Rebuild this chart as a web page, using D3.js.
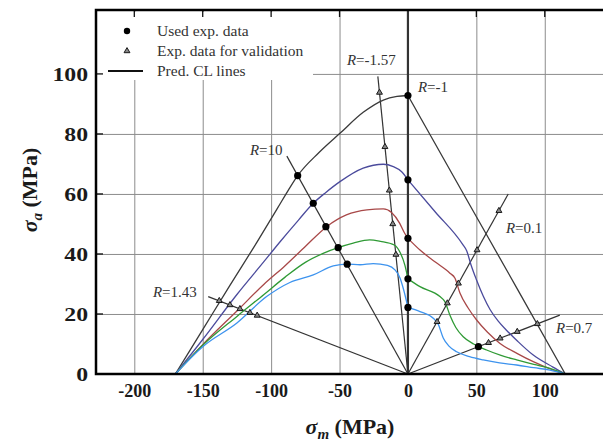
<!DOCTYPE html>
<html>
<head>
<meta charset="utf-8">
<script src="https://cdn.jsdelivr.net/npm/d3@7"></script>
<style>
  body { margin: 0; background: #fff; }
  svg { display: block; }
  text { font-family: "Liberation Serif", "Times New Roman", serif; }
</style>
</head>
<body>
<svg id="chart" width="603" height="441"></svg>
<script>
// tick values
var xTicks = [-200, -150, -100, -50, 0, 50, 100];
var yTicks = [0, 20, 40, 60, 80, 100];

// predicted constant-life curves (sigma_m, sigma_a)
var clBlack = [[-170,0],[-150,14.8],[-130,29.6],[-110,44.2],[-95,55.5],[-87.5,61.2],[-80.6,66.1],[-65,73.8],[-49.7,80.2],[-32.7,87.2],[-18,91.3],[-8,92.5],[0,92.8],
               [40,60.5],[80,28.3],[115,0]];
var clPurple = [[-170,0],[-150,11.5],[-125,26.5],[-105,37.6],[-93.6,44],[-80,51.3],[-69.2,56.9],[-60,60.5],[-49.7,64.1],[-32.7,68.6],[-18,69.9],[-10.7,69.1],[-4.6,67.4],[0,64.7],
                [20,54],[40,43.2],[43,41],[46,36.5],[50,31.5],[55,26],[60,21.5],[66,17.6],[72,14.6],[80,11],[91.6,6.3],[106,2.3],[115,0]];
var clRed = [[-170,0],[-150,9.8],[-125,21],[-105,30],[-90,36],[-75,42.5],[-59.4,49.1],[-45,53],[-30,54.7],[-18,55],[-12,53.8],[-6,50.2],[-2.5,47],[0,45.2],
             [8.8,41.3],[20,37.3],[30.7,33.6],[34.4,31.9],[38,27],[44,22],[50.2,18],[58,14],[67.3,10.2],[80,6.8],[91.6,4.1],[105,1.5],[115,0]];
var clGreen = [[-170,0],[-150,9.6],[-125,19.2],[-105,26.6],[-90,32.2],[-75,37.2],[-62,40.2],[-51,42.1],[-40,43.6],[-28,44.7],[-20,44.2],[-10,43],[-5.8,40.6],[-2.2,36.2],[0,31.7],
               [8.8,29.1],[23.4,25.8],[27,24.1],[30.7,19.6],[35,15.5],[40.4,12.4],[48,10],[57.5,8],[68,6.2],[79.5,4.7],[92,3.2],[103.8,1.9],[115,0]];
var clBlue = [[-170,0],[-150,9.1],[-125,17],[-103.3,25.8],[-86.3,30.5],[-69.2,33],[-54.6,36],[-44.4,36.6],[-35,36.4],[-25.4,36.8],[-15,36.2],[-9.5,34.7],[-5.8,32],[-3.4,28.5],[0,22.2],
              [8.8,20.8],[18.5,18.6],[22.2,16.5],[25.8,12],[30,9.3],[35.6,7.4],[45,5.8],[55,4.7],[67,3.7],[79.5,3],[92,2.1],[103.8,1.3],[115,0]];

// stress-ratio lines: far end of each line from the origin
var rNames = ["10", "1.43", "-1.57", "-1", "0.1", "0.7"];
var rEnds = [[-88.5,72.6],[-146,25.8],[-22,99.2],[0,121.3],[73.3,60],[111,19.6]];
var rLabelAt = [[-115.5,73],[-186.4,25.7],[-44.6,103],[7.3,94],[71.6,47],[108.2,13.7]];

// used experimental data (filled dots)
var usedData = [[0,92.8],[0,64.7],[0,45.2],[0,31.7],[0,22.2],
                [-80.6,66.1],[-69.2,56.9],[-60,49.1],[-51,42.1],[-44.4,36.6],
                [51.5,9.1]];
// experimental data for validation (triangles)
var validData = [[-20.8,93.8],[-16.8,75.7],[-13.6,61.2],[-11.1,50],[-8.8,39.8],
                 [-137.9,24.4],[-130.1,23],[-122.8,21.7],[-115.5,20.4],[-110.2,19.5],
                 [66.5,54.4],[50.5,41.3],[36.9,30.2],[28.8,23.6],[21.3,17.4],
                 [94.6,16.7],[79.9,14.1],[67.4,11.9],[58.9,10.4]];

var curves = [
  {pts: clBlack, color: "#3a3a3a"},
  {pts: clPurple, color: "#4b4b9c"},
  {pts: clRed, color: "#a84848"},
  {pts: clGreen, color: "#2f9a35"},
  {pts: clBlue, color: "#3d93ee"}
];

var svg = d3.select("#chart");
var plotL = 96, plotR = 604, plotT = 10, plotB = 374;

var x = d3.scaleLinear().domain([-228, 143.3]).range([plotL, plotR]);
var y = d3.scaleLinear().domain([0, 121.3]).range([plotB, plotT]);

svg.append("rect").attr("width", 603).attr("height", 441).attr("fill", "#fff");

// grid
svg.append("g")
  .attr("transform", "translate(0," + plotB + ")")
  .call(d3.axisBottom(x).tickValues(xTicks).tickSize(-(plotB - plotT)).tickFormat(""))
  .call(function(g){ g.select(".domain").remove(); })
  .selectAll("line").attr("stroke", "#8c8c8c").attr("stroke-width", 1);
svg.append("g")
  .attr("transform", "translate(" + plotL + ",0)")
  .call(d3.axisLeft(y).tickValues(yTicks.slice(1)).tickSize(-(plotR - plotL)).tickFormat(""))
  .call(function(g){ g.select(".domain").remove(); })
  .selectAll("line").attr("stroke", "#8c8c8c").attr("stroke-width", 1);

// legend box hides the grid
svg.append("rect").attr("x", 97).attr("y", 12).attr("width", 216).attr("height", 68).attr("fill", "#fff");

// inner tick marks
var tk = svg.append("g").attr("stroke", "#111").attr("stroke-width", 1.3);
xTicks.forEach(function(v){
  tk.append("line").attr("x1", x(v)).attr("x2", x(v)).attr("y1", plotT).attr("y2", plotT + 7);
});
yTicks.forEach(function(v){
  tk.append("line").attr("x1", plotL).attr("x2", plotL + 7).attr("y1", y(v)).attr("y2", y(v));
});

// tick labels
var xAxis = svg.append("g")
  .attr("transform", "translate(0," + plotB + ")")
  .call(d3.axisBottom(x).tickValues(xTicks).tickSize(0).tickFormat(function(d){ return String(d); }));
xAxis.select(".domain").remove();
xAxis.selectAll("text")
  .attr("y", 23).attr("dy", 0)
  .style("font-family", "Liberation Serif").style("font-weight", "bold")
  .style("font-size", "18px").attr("fill", "#1a1a1a");

var yAxis = svg.append("g")
  .attr("transform", "translate(" + plotL + ",0)")
  .call(d3.axisLeft(y).tickValues(yTicks).tickSize(0).tickFormat(function(d){ return String(d); }));
yAxis.select(".domain").remove();
yAxis.selectAll("text")
  .attr("x", -8 / 1.25).attr("dy", "0.34em")
  .attr("transform", "scale(1.25,1)")
  .style("font-family", "Liberation Serif").style("font-weight", "bold")
  .style("font-size", "19px").attr("fill", "#1a1a1a");

// R lines
var rl = svg.append("g").attr("stroke", "#333").attr("fill", "none");
rEnds.forEach(function(e, i){
  rl.append("line")
    .attr("x1", x(0)).attr("y1", y(0))
    .attr("x2", x(e[0])).attr("y2", y(e[1]))
    .attr("stroke-width", rNames[i] === "-1" ? 2.2 : 1.2);
});

// curves: left and right branches meet at the R=-1 point
var line = d3.line().x(function(d){ return x(d[0]); }).y(function(d){ return y(d[1]); })
  .curve(d3.curveMonotoneX);
curves.forEach(function(c){
  var l = c.pts.filter(function(d){ return d[0] <= 0; });
  var r = c.pts.filter(function(d){ return d[0] >= 0; });
  [l, r].forEach(function(part){
    svg.append("path").attr("d", line(part))
      .attr("fill", "none").attr("stroke", c.color).attr("stroke-width", 1.3);
  });
});

// markers
var tri = d3.symbol().type(d3.symbolTriangle).size(15);
svg.append("g").selectAll("path").data(validData).enter().append("path")
  .attr("d", tri)
  .attr("transform", function(d){ return "translate(" + x(d[0]) + "," + y(d[1]) + ")"; })
  .attr("fill", "#888").attr("stroke", "#1a1a1a").attr("stroke-width", 1);
svg.append("g").selectAll("circle").data(usedData).enter().append("circle")
  .attr("cx", function(d){ return x(d[0]); })
  .attr("cy", function(d){ return y(d[1]); })
  .attr("r", 3.6).attr("fill", "#000");

// R labels
rNames.forEach(function(n, i){
  var t = svg.append("text")
    .attr("x", x(rLabelAt[i][0])).attr("y", y(rLabelAt[i][1]))
    .attr("fill", "#333").style("font-size", "15px");
  t.append("tspan").attr("font-style", "italic").text("R");
  t.append("tspan").text("=" + n);
});

// legend
svg.append("circle").attr("cx", 127).attr("cy", 31).attr("r", 3.2).attr("fill", "#000");
svg.append("path").attr("d", tri).attr("transform", "translate(127,51)")
  .attr("fill", "#888").attr("stroke", "#1a1a1a").attr("stroke-width", 1);
svg.append("line").attr("x1", 108).attr("x2", 143).attr("y1", 71).attr("y2", 71)
  .attr("stroke", "#111").attr("stroke-width", 2);
var legendText = ["Used exp. data", "Exp. data for validation", "Pred. CL lines"];
legendText.forEach(function(s, i){
  svg.append("text").attr("x", 157).attr("y", 36 + i * 20)
    .attr("fill", "#333").style("font-size", "15.5px").text(s);
});

// frame
svg.append("rect").attr("x", plotL).attr("y", plotT)
  .attr("width", 512).attr("height", plotB - plotT)
  .attr("fill", "none").attr("stroke", "#000").attr("stroke-width", 2.5);

// axis titles
function title(g, sub){
  var t = g.append("text").attr("text-anchor", "middle")
    .style("font-size", "22px").style("font-weight", "bold").attr("fill", "#1a1a1a");
  t.append("tspan").attr("font-style", "italic").text("σ");
  t.append("tspan").attr("font-style", "italic").attr("dy", 5).style("font-size", "15px").text(sub);
  t.append("tspan").attr("dy", -5).text(" (MPa)");
}
title(svg.append("g").attr("transform", "translate(350,434)"), "m");
title(svg.append("g").attr("transform", "translate(37,190) rotate(-90)"), "a");
</script>
</body>
</html>
